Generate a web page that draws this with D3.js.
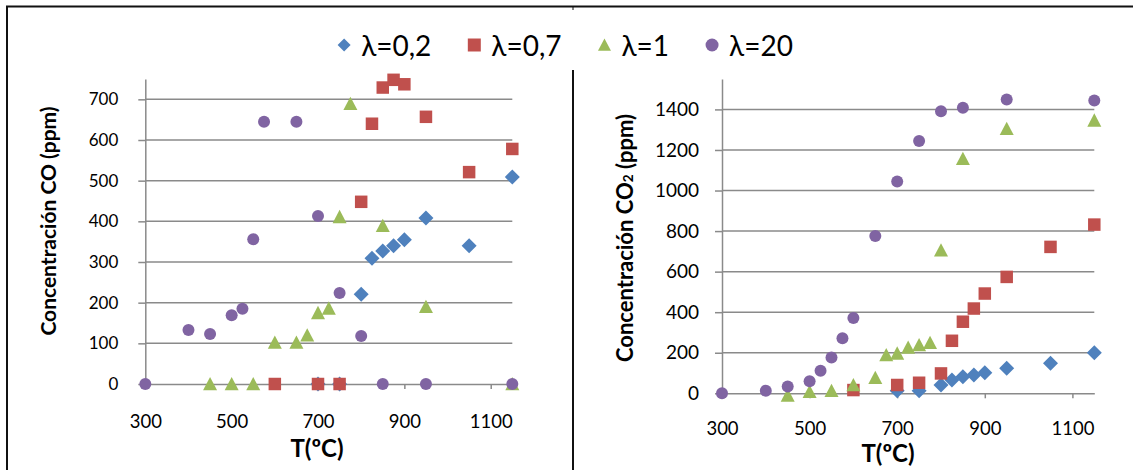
<!DOCTYPE html>
<html>
<head>
<meta charset="utf-8">
<script src="https://cdn.jsdelivr.net/npm/d3@7"></script>
<style>
  body { margin: 0; background: #fff; }
  text { font-family: Lato, "Open Sans", sans-serif; fill: #000; }
</style>
</head>
<body>
<svg id="chart" width="1133" height="470"></svg>
<script>
// series labels and colours
const seriesNames = ["λ=0,2", "λ=0,7", "λ=1", "λ=20"];
const seriesColors = ["#4F81BD", "#C0504D", "#9BBB59", "#8064A2"];
const seriesShapes = ["diamond", "square", "triangle", "circle"];

// CO (ppm) vs T (ºC)
const coT_02 = [700, 750, 800, 825, 850, 875, 900, 950, 1050, 1150];
const coV_02 = [0, 0, 221, 309, 327, 340, 355, 408, 340, 509];
const coT_07 = [600, 700, 750, 800, 825, 850, 875, 900, 950, 1050, 1150];
const coV_07 = [0, 0, 0, 448, 640, 729, 748, 737, 657, 521, 578];
const coT_1 = [450, 500, 550, 600, 650, 675, 700, 725, 750, 775, 850, 950, 1150];
const coV_1 = [0, 0, 0, 102, 102, 120, 175, 186, 411, 689, 389, 190, 0];
const coT_20 = [300, 400, 450, 500, 525, 550, 575, 650, 700, 750, 800, 850, 950, 1150];
const coV_20 = [0, 133, 123, 169, 185, 356, 645, 645, 413, 224, 118, 0, 0, 0];

// CO2 (ppm) vs T (ºC)
const co2T_02 = [700, 750, 800, 825, 850, 875, 900, 950, 1050, 1150];
const co2V_02 = [13, 13, 41, 65, 82, 90, 101, 123, 148, 200];
const co2T_07 = [600, 700, 750, 800, 825, 850, 875, 900, 950, 1050, 1150];
const co2V_07 = [16, 41, 52, 98, 259, 353, 418, 492, 574, 722, 832];
const co2T_1 = [450, 500, 550, 600, 650, 675, 700, 725, 750, 775, 800, 850, 950, 1150];
const co2V_1 = [-10, 8, 13, 41, 77, 189, 197, 226, 238, 249, 706, 1157, 1305, 1346];
const co2T_20 = [300, 400, 450, 500, 525, 550, 575, 600, 650, 700, 750, 800, 850, 950, 1150];
const co2V_20 = [0, 13, 33, 60, 111, 177, 272, 371, 776, 1045, 1244, 1391, 1408, 1449, 1444];

const xTicks = [300, 500, 700, 900, 1100];
const coTicks = [0, 100, 200, 300, 400, 500, 600, 700];
const co2Ticks = [0, 200, 400, 600, 800, 1000, 1200, 1400];

const svg = d3.select("#chart");
const fmt = d3.format("d");

function markerPath(shape, s) {
  const h = s / 2;
  if (shape === "diamond") return `M0,${-h}L${h},0L0,${h}L${-h},0Z`;
  if (shape === "square") return `M${-h},${-h}H${h}V${h}H${-h}Z`;
  if (shape === "triangle") return `M0,${-h}L${h},${h * 0.9}L${-h},${h * 0.9}Z`;
  return d3.symbol(d3.symbolCircle, Math.PI * h * h)();
}
const markerSize = { diamond: 15, square: 12.5, triangle: 14, circle: 12 };

// frame lines
svg.append("line").attr("x1", 6).attr("x2", 1133).attr("y1", 6.5).attr("y2", 6.5)
  .attr("stroke", "#111").attr("stroke-width", 2);
svg.append("line").attr("x1", 7).attr("x2", 7).attr("y1", 6).attr("y2", 470)
  .attr("stroke", "#111").attr("stroke-width", 2);
svg.append("line").attr("x1", 573).attr("x2", 573).attr("y1", 70).attr("y2", 470)
  .attr("stroke", "#111").attr("stroke-width", 2);
svg.append("line").attr("x1", 573).attr("x2", 573).attr("y1", 6).attr("y2", 10)
  .attr("stroke", "#111").attr("stroke-width", 1);

function panel(p) {
  const x = d3.scaleLinear().domain([300, 1150]).range(p.xr);
  const y = d3.scaleLinear().domain(p.yd).range(p.yr);
  const g = svg.append("g");

  // gridlines
  g.selectAll(".grid").data(p.yTicks.slice(1)).enter().append("line")
    .attr("x1", p.xr[0]).attr("x2", p.xr[1])
    .attr("y1", d => y(d)).attr("y2", d => y(d))
    .attr("stroke", "#8a8a8a").attr("stroke-width", 1.5);

  const ya = g.append("g").attr("transform", `translate(${p.xr[0]},0)`)
    .call(d3.axisLeft(y).tickValues(p.yTicks).tickFormat(fmt)
      .tickSize(7).tickSizeOuter(0).tickPadding(p.yPad));
  ya.selectAll("text").style("font-size", p.yFont + "px");

  const xa = g.append("g").attr("transform", `translate(0,${p.yr[0]})`)
    .call(d3.axisBottom(x).tickValues(xTicks).tickFormat(fmt)
      .tickSize(5).tickSizeOuter(0).tickPadding(p.xPad));
  xa.selectAll("text").style("font-size", "18.5px");
  g.selectAll(".domain, .tick line").attr("stroke", "#8a8a8a").attr("stroke-width", 1.5);

  // series
  p.series.forEach((s, i) => {
    const pts = s.t.map((t, k) => ({ t: t, v: s.v[k] }));
    g.selectAll(null).data(pts).enter().append("path")
      .attr("d", markerPath(seriesShapes[i], markerSize[seriesShapes[i]]))
      .attr("transform", d => `translate(${x(d.t)},${y(d.v)})`)
      .attr("fill", seriesColors[i]);
  });

  // titles
  g.append("text").attr("transform", `translate(${p.xt[0]},${p.xt[1]})`)
    .attr("text-anchor", "middle").attr("dominant-baseline", "central")
    .style("font-size", "24px").style("font-weight", "bold").text("T(ºC)");
  const yt = g.append("text").attr("transform", `translate(${p.yt[0]},${p.yt[1]}) rotate(-90)`)
    .attr("text-anchor", "middle").attr("dominant-baseline", "central")
    .style("font-size", p.ytFont + "px").style("font-weight", "bold");
  p.yTitle.forEach(part => {
    const ts = yt.append("tspan").text(part.s);
    if (part.sub) ts.style("font-size", "62%").attr("dy", 4);
    if (part.after) ts.attr("dy", -4);
  });
}

panel({
  xr: [145.3, 512.3], yr: [384, 79], yd: [0, 750], yTicks: coTicks, yFont: 17, yPad: 20, xPad: 26,
  xt: [317, 447], yt: [47, 221], ytFont: 21,
  yTitle: [{ s: "Concentración CO (ppm)" }],
  series: [{ t: coT_02, v: coV_02 }, { t: coT_07, v: coV_07 }, { t: coT_1, v: coV_1 }, { t: coT_20, v: coV_20 }]
});

panel({
  xr: [722, 1094.3], yr: [393.3, 79], yd: [0, 1550], yTicks: co2Ticks, yFont: 19, yPad: 16, xPad: 24,
  xt: [888, 452], yt: [624, 238], ytFont: 22,
  yTitle: [{ s: "Concentración CO" }, { s: "2", sub: true }, { s: " (ppm)", after: true }],
  series: [{ t: co2T_02, v: co2V_02 }, { t: co2T_07, v: co2V_07 }, { t: co2T_1, v: co2V_1 }, { t: co2T_20, v: co2V_20 }]
});

// legend
const leg = svg.append("g");
let cursor = 0;
seriesNames.forEach((name, i) => {
  const it = leg.append("g").attr("transform", `translate(${cursor},0)`);
  it.append("path").attr("d", markerPath(seriesShapes[i], 13))
    .attr("transform", "translate(7,0)").attr("fill", seriesColors[i]);
  const t = it.append("text").attr("x", 24).attr("dominant-baseline", "central")
    .style("font-size", "28px").text(name);
  cursor += 24 + t.node().getComputedTextLength() + 36;
});
const legW = cursor - 36;
leg.attr("transform", `translate(${565 - legW / 2},45)`);
</script>
</body>
</html>
